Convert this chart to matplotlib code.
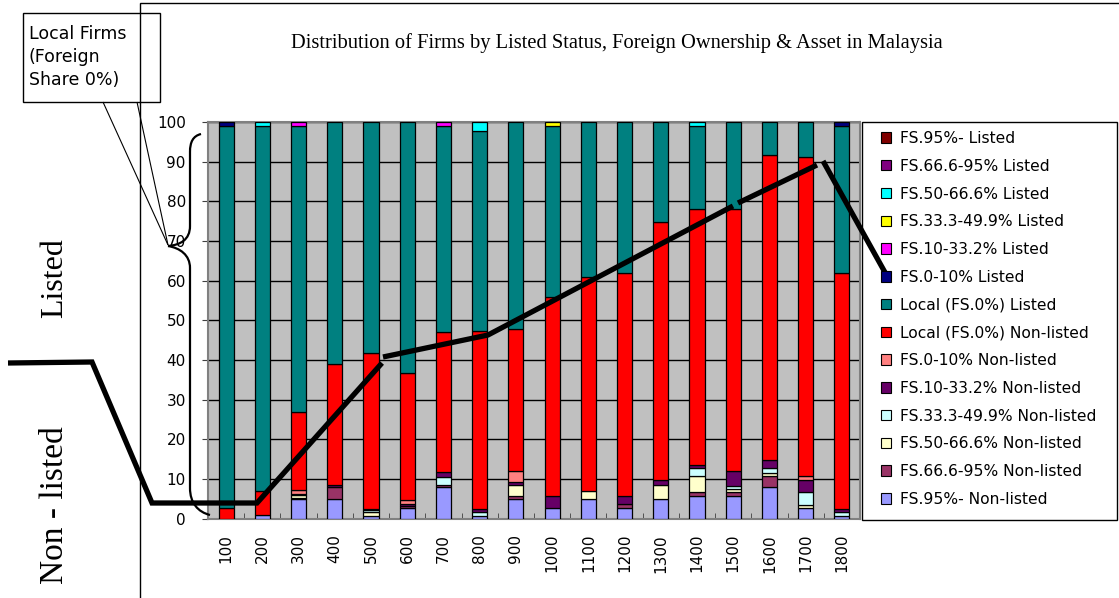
import sys

import matplotlib
matplotlib.use("Agg")
import matplotlib.pyplot as plt
import numpy as np
from matplotlib.lines import Line2D
from matplotlib.patches import Patch, PathPatch, Rectangle
from matplotlib.path import Path

W, H = 1119, 598

assets = ["100", "200", "300", "400", "500", "600", "700", "800", "900",
          "1000", "1100", "1200", "1300", "1400", "1500", "1600", "1700", "1800"]

# stack order, bottom to top
series_names = [
    "FS.95%- Non-listed",
    "FS.66.6-95% Non-listed",
    "FS.50-66.6% Non-listed",
    "FS.33.3-49.9% Non-listed",
    "FS.10-33.2% Non-listed",
    "FS.0-10% Non-listed",
    "Local (FS.0%) Non-listed",
    "Local (FS.0%) Listed",
    "FS.0-10% Listed",
    "FS.10-33.2% Listed",
    "FS.33.3-49.9% Listed",
    "FS.50-66.6% Listed",
    "FS.66.6-95% Listed",
    "FS.95%- Listed",
]

fs95_nl = [0, 0.9, 4.9, 4.9, 0.8, 2.6, 8.1, 0.8, 4.9, 2.6, 4.9, 2.6, 4.9, 5.8, 5.8, 8.0, 2.6, 0.8]
fs66_nl = [0, 0, 0.2, 3.0, 0, 0.6, 0.4, 0, 0.8, 0, 0, 1.1, 0, 0.9, 0.9, 2.8, 0, 0]
fs50_nl = [0, 0, 0.9, 0, 0.9, 0, 0, 0, 2.7, 0, 2.1, 0, 3.7, 4.0, 0.9, 0.8, 0.9, 0]
fs33_nl = [0, 0, 0.3, 0, 0.5, 0, 1.9, 0.8, 0, 0, 0, 0, 0, 2.1, 0.6, 1.2, 3.3, 0.9]
fs10_nl = [0, 0, 0, 0.7, 0, 0.5, 1.4, 0.9, 0.8, 3.2, 0, 2.1, 1.1, 0.8, 3.7, 2.0, 2.9, 0.8]
fs0_nl = [0, 0, 0.9, 0, 0.3, 0.9, 0, 0, 2.8, 0, 0, 0, 0, 0, 0, 0, 1.0, 0]
local_nl = [2.6, 6.1, 19.6, 30.3, 39.2, 32.2, 35.3, 44.7, 35.8, 50.2, 54.0, 56.2, 65.0, 64.4, 66.1, 77.0, 80.4, 59.5]
local_l = [96.4, 92.0, 72.2, 61.1, 58.3, 63.2, 51.9, 50.6, 52.2, 43.0, 39.0, 38.0, 25.3, 21.0, 22.0, 8.2, 8.9, 37.0]
fs0_l = [1.0, 0, 0, 0, 0, 0, 0, 0, 0, 0, 0, 0, 0, 0, 0, 0, 0, 1.0]
fs10_l = [0, 0, 1.0, 0, 0, 0, 1.0, 0, 0, 0, 0, 0, 0, 0, 0, 0, 0, 0]
fs33_l = [0, 0, 0, 0, 0, 0, 0, 0, 0, 1.0, 0, 0, 0, 0, 0, 0, 0, 0]
fs50_l = [0, 1.0, 0, 0, 0, 0, 0, 2.2, 0, 0, 0, 0, 0, 1.0, 0, 0, 0, 0]
fs66_l = [0] * 18
fs95_l = [0] * 18

series_values = [fs95_nl, fs66_nl, fs50_nl, fs33_nl, fs10_nl, fs0_nl, local_nl,
                 local_l, fs0_l, fs10_l, fs33_l, fs50_l, fs66_l, fs95_l]

series_colors = ["#9999FF", "#993366", "#FFFFCC", "#CCFFFF", "#660066", "#FF8080", "#FF0000",
                 "#008080", "#000080", "#FF00FF", "#FFFF00", "#00FFFF", "#800080", "#800000"]


def fx(x):
    return x / W


def fy(y):
    return 1 - y / H


def fig_line(fig, pts, lw, color="black"):
    xs = [fx(p[0]) for p in pts]
    ys = [fy(p[1]) for p in pts]
    fig.add_artist(Line2D(xs, ys, lw=lw, color=color, transform=fig.transFigure,
                          solid_capstyle="butt", solid_joinstyle="miter"))


def fig_curve(fig, verts, codes, lw):
    v = [(fx(a), fy(b)) for a, b in verts]
    fig.add_artist(PathPatch(Path(v, codes), fill=False, lw=lw, edgecolor="black",
                             transform=fig.transFigure))


def main():
    fig = plt.figure(figsize=(W / 100, H / 100), dpi=100)
    fig.patch.set_facecolor("white")

    ax = fig.add_axes([fx(208), fy(518.7), (860 - 208) / W, (518.7 - 122) / H])
    ax.set_facecolor("#C0C0C0")

    x = np.arange(len(assets))
    bottom = np.zeros(len(assets))
    for vals, col in zip(series_values, series_colors):
        vals = np.array(vals, dtype=float)
        lws = [0.9 if v > 0 else 0 for v in vals]
        ax.bar(x, vals, 0.42, bottom=bottom, color=col, edgecolor="black", linewidth=lws, zorder=3)
        bottom += vals

    ax.set_xlim(-0.5, len(assets) - 0.5)
    ax.set_ylim(0, 100)
    ax.set_yticks(range(0, 101, 10))
    ax.yaxis.grid(True, color="black", lw=1, zorder=1)
    ax.set_axisbelow(True)
    ax.set_xticks(x)
    ax.set_xticklabels(assets, rotation=90, fontsize=11)
    ax.set_xticks(np.arange(0.5, len(assets) - 0.5), minor=True)
    ax.tick_params(axis="x", which="major", length=0, pad=11)
    ax.tick_params(axis="x", which="minor", direction="in", length=4, color="#404040")
    ax.tick_params(axis="y", length=4, color="#404040", labelsize=11, pad=12)
    for s in ax.spines.values():
        s.set_color("#808080")
        s.set_linewidth(1.5)

    # legend frame and entries (top of stack first)
    fig.add_artist(Rectangle((fx(862), fy(520)), (1117 - 862) / W, (520 - 122) / H,
                             transform=fig.transFigure, fill=False, edgecolor="black", lw=1))
    handles = [Patch(facecolor=c, edgecolor="black", lw=0.8) for c in series_colors][::-1]
    fig.legend(handles, series_names[::-1], loc="upper left", bbox_to_anchor=(fx(881), fy(131)),
               frameon=False, fontsize=11.2, handlelength=0.65, handleheight=0.65,
               handletextpad=0.55, labelspacing=0.82, borderaxespad=0, borderpad=0)

    # chart-area border
    fig_line(fig, [(140, 598), (140, 3), (1119, 3)], 1)

    fig.text(fx(617), fy(43), "Distribution of Firms by Listed Status, Foreign Ownership & Asset in Malaysia",
             ha="center", va="center", fontsize=14.8, family="Liberation Serif")

    fig.text(fx(55), fy(278), "Listed", rotation=90, ha="center", va="center",
             fontsize=23, family="Liberation Serif")
    fig.text(fx(55), fy(505), "Non - listed", rotation=90, ha="center", va="center",
             fontsize=24, family="Liberation Serif")

    # callout box
    fig.add_artist(Rectangle((fx(23), fy(102)), (160 - 23) / W, (102 - 13) / H,
                             transform=fig.transFigure, fill=False, edgecolor="black", lw=1))
    fig.text(fx(29), fy(57), "Local Firms\n(Foreign\nShare 0%)", ha="left", va="center",
             fontsize=12.5, linespacing=1.35)
    fig_line(fig, [(103, 102), (168, 245)], 0.8)
    fig_line(fig, [(137, 102), (168, 245)], 0.8)

    # braces
    C4 = Path.CURVE4
    fig_curve(fig, [(201, 134), (193, 136), (190, 142), (190, 152), (190, 226),
                    (190, 240), (180, 245), (168, 246)],
              [Path.MOVETO, C4, C4, C4, Path.LINETO, C4, C4, C4], 1.6)
    fig_curve(fig, [(168, 246), (180, 248), (190, 255), (190, 268), (190, 488),
                    (190, 503), (198, 512), (210, 515)],
              [Path.MOVETO, C4, C4, C4, Path.LINETO, C4, C4, C4], 1.6)

    # thick trend lines
    fig_line(fig, [(8, 363), (92, 362), (152, 503), (257, 503), (382, 363)], 3.8)
    fig_line(fig, [(383, 357), (488, 335), (733, 206)], 3.8)
    fig_line(fig, [(738, 203), (817, 165)], 3.8)
    fig_line(fig, [(823, 161), (887, 276)], 3.8)

    fig.savefig("out.png", dpi=100)
    return 0


if __name__ == '__main__':
    sys.exit(main())
